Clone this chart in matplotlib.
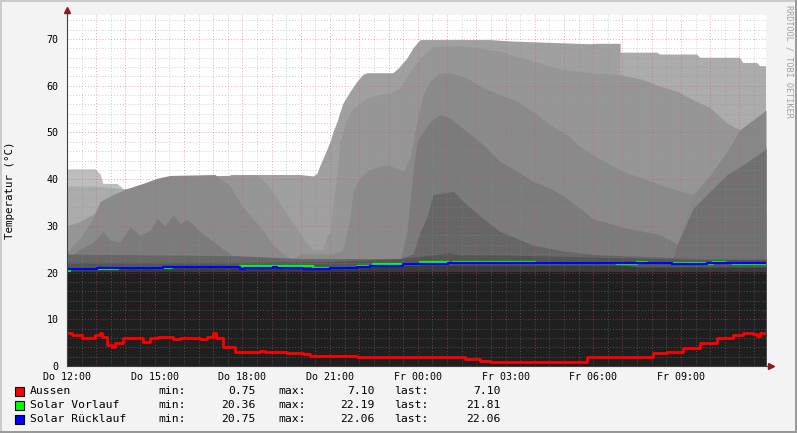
import numpy as np
import matplotlib
matplotlib.use("Agg")
import matplotlib.pyplot as plt
from matplotlib.patches import Rectangle
from matplotlib.ticker import MultipleLocator

plt.rcParams['font.family'] = ['DejaVu Sans Mono']
nan = np.nan

# time axis in hours after Do 12:00
x_labels = ["Do 12:00", "Do 15:00", "Do 18:00", "Do 21:00",
            "Fr 00:00", "Fr 03:00", "Fr 06:00", "Fr 09:00"]

# gray background areas (drawn light -> dark)
c1_t = [0, 0.96, 1.13, 1.23, 1.71, 1.92, 2.09]
c1_v = [42.2, 42.2, 41.2, 39.1, 39.1, 38.0, 38.0]

c2_t = [0, 1.13, 1.71, 2.09, 2.1, 18.91, 18.92, 20.18, 20.29, 21.55, 21.66, 23.02, 23.13, 23.61, 23.71, 23.91]
c2_v = [38.5, 38.4, 38.0, 37.5, nan, nan, 67.1, 67.1, 66.7, 66.7, 66.0, 66.0, 64.9, 64.9, 64.2, 64.2]

l1_t = [5.58, 7.97, 8.42, 8.55, 8.66, 8.76, 8.9, 9.0, 9.1, 9.24, 9.34, 9.44, 9.68, 9.92, 10.13, 10.26,
        11.15, 11.29, 11.39, 11.63, 11.84, 12.08, 14.47, 15.16, 17.89, 18.06, 18.92]
l1_v = [41.0, 41.0, 40.7, 41.3, 43.1, 44.5, 46.6, 48.1, 50.2, 52.4, 54.5, 56.3, 58.8, 61.0, 62.5, 62.8,
        62.8, 63.6, 64.2, 66.0, 68.2, 69.9, 69.9, 69.6, 69.0, 69.1, 69.1]

l2_t = [0, 0.44, 0.89, 1.23, 1.57, 2.05, 3.08, 3.69, 6.5, 6.84, 7.18, 7.53, 7.87, 8.21, 8.42, 8.76,
        8.9, 9.0, 9.1, 9.24, 9.34, 9.58, 9.78, 10.26, 10.71, 11.05, 11.39, 11.73, 12.08, 12.52,
        13.68, 14.81, 15.94, 16.87, 17.89, 18.92, 19.71, 20.29, 20.87, 21.42, 22.0, 22.58, 23.02, 23.91]
l2_v = [30.0, 31.0, 32.5, 34.6, 36.0, 37.4, 39.0, 40.5, 41.0, 38.9, 35.9, 32.4, 29.4, 26.2, 24.9, 24.9,
        28.1, 28.8, 34.5, 41.7, 48.1, 53.0, 55.2, 57.4, 58.1, 58.4, 59.5, 63.1, 65.9, 68.5,
        68.5, 67.4, 65.3, 63.6, 62.8, 62.4, 61.3, 59.9, 58.8, 57.0, 55.3, 52.0, 50.6, 47.0]

l3_t = [0, 0.44, 0.89, 1.13, 1.57, 2.05, 2.6, 3.08, 3.52, 5.06, 5.58, 6.02, 6.36, 6.71, 7.05, 7.39,
        7.7, 7.97, 9.0, 9.34, 9.44, 9.68, 9.78, 10.02, 10.26, 10.61, 10.95, 11.29, 11.5, 11.73, 11.97,
        12.18, 12.42, 12.76, 13.1, 13.68, 14.23, 14.81, 15.4, 15.94, 16.52, 17.11, 17.45, 18.0, 18.58,
        19.16, 19.71, 20.29, 20.87, 21.42, 23.91]
l3_v = [24.5, 27.3, 31.6, 35.2, 36.7, 38.0, 39.1, 40.2, 40.8, 41.0, 38.5, 34.0, 31.5, 29.0, 26.0, 24.0,
        22.8, 24.0, 24.0, 24.5, 25.1, 31.6, 37.4, 40.2, 41.7, 42.7, 43.1, 42.3, 41.7, 44.5, 52.4,
        58.1, 61.0, 62.7, 62.8, 61.7, 59.6, 58.1, 56.7, 54.5, 51.7, 49.5, 47.4, 45.2, 43.1,
        41.3, 40.2, 38.8, 37.7, 36.7, 33.0]

r1_t = [20.87, 21.42, 22.0, 22.58, 23.02, 23.47, 23.91]
r1_v = [26.0, 36.7, 40.9, 46.0, 50.6, 52.7, 54.8]

l4_t = [0, 0.44, 0.89, 1.23, 1.47, 1.81, 2.16, 2.5, 2.84, 3.08, 3.35, 3.63, 3.87, 4.1, 4.31, 4.55,
        5.0, 5.47, 5.92, 7.97, 11.39, 11.63, 11.84, 11.97, 12.42, 12.76, 13.1, 13.68, 14.23, 14.81,
        15.4, 15.94, 16.52, 17.11, 18.0, 19.16, 20.29, 20.73, 20.87, 23.91]
l4_v = [23.0, 25.0, 26.5, 28.8, 27.0, 26.5, 29.8, 28.0, 29.0, 31.6, 30.0, 32.4, 30.5, 31.4, 30.3, 28.8,
        26.6, 24.5, 22.3, 22.3, 22.5, 28.8, 41.7, 48.1, 52.4, 53.8, 53.1, 50.2, 47.4, 43.8,
        41.7, 39.5, 38.1, 35.9, 31.5, 29.5, 28.1, 26.6, 26.0, 24.0]

r2_t = [20.73, 20.87, 21.42, 22.0, 22.58, 23.13, 23.91]
r2_v = [23.0, 26.0, 33.8, 37.4, 41.0, 43.1, 46.5]

l5_t = [0, 5.92, 7.97, 11.39, 11.84, 12.08, 12.32, 12.52, 12.86, 13.21, 13.68, 14.23, 14.81, 15.4,
        15.94, 16.52, 17.11, 18.24, 19.6, 21.66, 23.91]
l5_v = [24.0, 23.6, 23.0, 23.0, 24.0, 28.8, 32.0, 36.7, 37.0, 37.4, 34.5, 31.6, 28.8, 27.3,
        25.9, 25.2, 24.5, 23.8, 23.5, 23.0, 23.0]

l6_t = [0, 5.92, 9.0, 11.39, 12.52, 13.1, 13.44, 14.81, 16.87, 18.92, 21.66, 23.91]
l6_v = [22.2, 22.2, 22.4, 23.0, 23.8, 24.3, 23.8, 23.8, 23.5, 23.2, 22.8, 22.8]

l7_t = [0, 9.0, 12.32, 18.92, 19.6, 23.91]
l7_v = [21.0, 21.2, 21.6, 21.6, 21.2, 21.2]

base_t = [0, 23.91]
base_v = [20.2, 20.2]

areas = [
    (c1_t, c1_v, '#bebebe'), (c2_t, c2_v, '#acacac'), (l1_t, l1_v, '#a0a0a0'),
    (l2_t, l2_v, '#969696'), (l3_t, l3_v, '#8a8a8a'), (r1_t, r1_v, '#878787'),
    (l4_t, l4_v, '#7b7b7b'), (r2_t, r2_v, '#707070'), (l5_t, l5_v, '#666666'),
    (l6_t, l6_v, '#555555'), (l7_t, l7_v, '#3a3a3a'), (base_t, base_v, '#1f1f1f'),
]

# lines
aussen_t = [0, 0.17, 0.51, 0.96, 1.13, 1.2, 1.37, 1.54, 1.64, 1.92, 2.6, 2.84, 3.11, 3.63, 3.87,
            4.55, 4.79, 4.99, 5.1, 5.34, 5.75, 6.6, 6.77, 7.53, 8.07, 8.31, 9.92, 13.1, 13.62,
            14.13, 14.47, 15.84, 17.79, 20.05, 20.53, 21.07, 21.66, 22.24, 22.78, 23.13, 23.47,
            23.61, 23.71, 23.91]
aussen_v = [7.0, 6.64, 5.93, 6.64, 7.0, 6.27, 4.5, 4.13, 4.99, 5.93, 5.2, 5.93, 6.27, 5.72, 6.06,
            5.72, 6.27, 7.0, 6.06, 4.13, 3.06, 3.28, 3.06, 2.85, 2.5, 2.14, 1.99, 1.86, 1.43,
            1.13, 0.75, 0.92, 1.99, 2.85, 3.06, 3.92, 4.86, 5.93, 6.64, 7.0, 6.8,
            6.5, 7.1, 7.1]

vorlauf_t = [0, 0.1, 1.03, 1.74, 3.28, 3.59, 5.92, 8.42, 9.92, 10.47, 12.08, 13.03, 13.21, 16.01,
             18.82, 19.5, 19.84, 21.9, 22.1, 22.51, 22.78, 23.91]
vorlauf_v = [20.36, 20.77, 20.7, 20.99, 20.91, 21.26, 21.35, 21.0, 21.41, 21.77, 22.19, 22.06, 22.19,
             22.06, 21.77, 22.19, 22.06, 21.77, 22.19, 22.06, 21.81, 21.81]

ruecklauf_t = [0, 1.03, 3.28, 5.92, 6.09, 7.05, 7.18, 8.07, 9.0, 9.92, 10.37, 11.5, 11.63, 13.03,
               20.7, 21.9, 23.91]
ruecklauf_v = [20.75, 20.99, 21.26, 20.84, 21.05, 21.2, 21.05, 20.84, 21.05, 21.2, 21.41, 21.77,
               21.84, 22.06, 21.77, 22.06, 22.06]

legend_names = ["Aussen", "Solar Vorlauf", "Solar Rücklauf"]
legend_colors = ['#ff0000', '#00ff00', '#0000ff']
legend_min = ["0.75", "20.36", "20.75"]
legend_max = ["7.10", "22.19", "22.06"]
legend_last = ["7.10", "21.81", "22.06"]

W, H = 797, 433
def fx(x):
    return x / W
def fy(y):
    return 1 - y / H

fig = plt.figure(figsize=(W / 100, H / 100), dpi=100, facecolor='#f3f3f3')
ax = fig.add_axes([fx(67), fy(366), (766 - 67) / W, (366 - 15) / H])
ax.set_facecolor('white')
ax.set_xlim(0, 23.91)
ax.set_ylim(0, 75.16)

for t, v, c in areas:
    ax.fill_between(t, 0, np.array(v, dtype=float), color=c, lw=0, zorder=1)

ax.plot(aussen_t, aussen_v, color='#ff0000', lw=2.0, drawstyle='steps-post', zorder=3)
ax.plot(vorlauf_t, vorlauf_v, color='#00ff00', lw=1.6, drawstyle='steps-post', zorder=3)
ax.plot(ruecklauf_t, ruecklauf_v, color='#0000ff', lw=1.6, drawstyle='steps-post', zorder=3)

# grid
ax.xaxis.set_major_locator(MultipleLocator(1))
ax.xaxis.set_minor_locator(MultipleLocator(0.5))
ax.yaxis.set_major_locator(MultipleLocator(10))
ax.yaxis.set_minor_locator(MultipleLocator(2))
ax.set_axisbelow(False)
ax.grid(which='minor', color='#8f8f8f', alpha=0.45, lw=0.7, ls=(0, (1, 2)))
ax.grid(which='major', color='#de5050', alpha=0.5, lw=0.7, ls=(0, (1, 2)))

ax.set_xticklabels([x_labels[int(t) // 3] if int(t) % 3 == 0 and 0 <= t < 24 else ''
                    for t in ax.get_xticks()])
ax.set_yticks(range(0, 80, 10))
ax.tick_params(which='both', length=0, labelsize=7.2)
ax.tick_params(axis='x', pad=4)
ax.tick_params(axis='y', pad=6)

for s in ['top', 'right']:
    ax.spines[s].set_visible(False)
for s in ['left', 'bottom']:
    ax.spines[s].set_color('#404040')
    ax.spines[s].set_linewidth(0.8)
    ax.spines[s].set_zorder(4)

# axis arrows
ax.plot([0, 0], [1.0, 1.012], transform=ax.transAxes, color='#404040', lw=0.8, clip_on=False)
ax.plot([1.0, 1.006], [0, 0], transform=ax.transAxes, color='#404040', lw=0.8, clip_on=False)
ax.plot([0], [1.013], marker='^', ms=4, color='#8b1a1a', transform=ax.transAxes, clip_on=False)
ax.plot([1.007], [0], marker='>', ms=4, color='#8b1a1a', transform=ax.transAxes, clip_on=False)

fig.text(fx(10), fy(190), "Temperatur (°C)", rotation=90, ha='center', va='center', fontsize=7.8)
fig.text(fx(789), fy(5), "RRDTOOL / TOBI OETIKER", rotation=270, ha='center', va='top',
         fontsize=6.1, color='#a0a0a0')

# legend
rows_y = [391, 405, 419]
for i, name in enumerate(legend_names):
    y = rows_y[i]
    fig.add_artist(Rectangle((fx(15), fy(y + 4.5)), 9 / W, 9 / H, facecolor=legend_colors[i],
                             edgecolor='black', lw=0.8, transform=fig.transFigure))
    fig.text(fx(30), fy(y), name, ha='left', va='center', fontsize=8.2)
    fig.text(fx(158), fy(y), "min:", ha='left', va='center', fontsize=8.2)
    fig.text(fx(256), fy(y), legend_min[i], ha='right', va='center', fontsize=8.2)
    fig.text(fx(278), fy(y), "max:", ha='left', va='center', fontsize=8.2)
    fig.text(fx(375), fy(y), legend_max[i], ha='right', va='center', fontsize=8.2)
    fig.text(fx(394), fy(y), "last:", ha='left', va='center', fontsize=8.2)
    fig.text(fx(501), fy(y), legend_last[i], ha='right', va='center', fontsize=8.2)

# frame shading
fig.add_artist(Rectangle((0, fy(2)), 1, 2 / H, color='#cbcbcb', lw=0, transform=fig.transFigure))
fig.add_artist(Rectangle((0, 0), 2 / W, 1, color='#cbcbcb', lw=0, transform=fig.transFigure))
fig.add_artist(Rectangle((0, 0), 1, 2 / H, color='#999999', lw=0, transform=fig.transFigure))
fig.add_artist(Rectangle((fx(795), 0), 2 / W, 1, color='#999999', lw=0, transform=fig.transFigure))

fig.savefig("out.png", dpi=100, facecolor=fig.get_facecolor())
